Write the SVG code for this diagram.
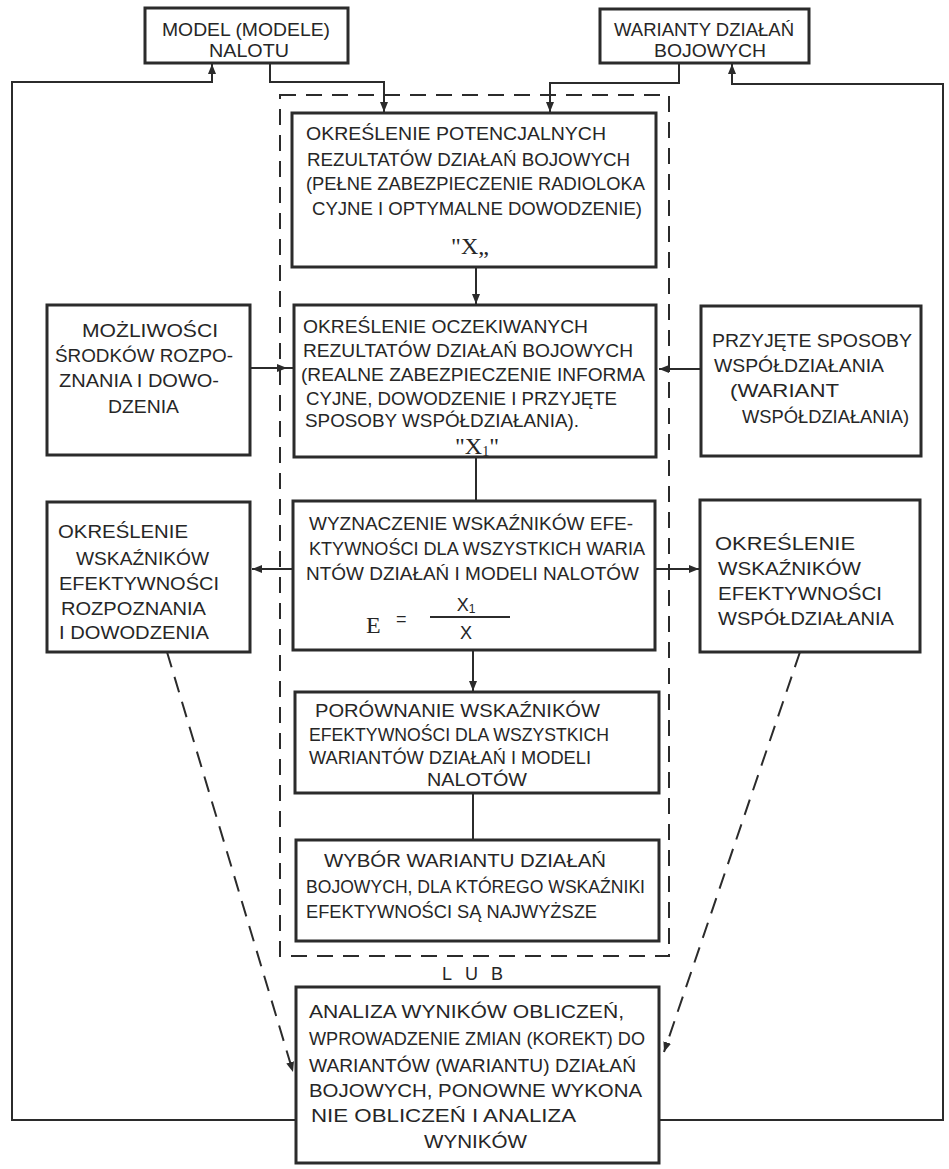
<svg xmlns="http://www.w3.org/2000/svg" width="949" height="1169" viewBox="0 0 949 1169">
<style>
.box{fill:#fff;stroke:#2b2b2b;stroke-width:3}
.ln{fill:none;stroke:#2b2b2b;stroke-width:2}
.dash{fill:none;stroke:#2b2b2b;stroke-width:2;stroke-dasharray:16 10}
text{font-family:"Liberation Sans","DejaVu Sans",sans-serif;font-size:18px;fill:#262626}
.c{text-anchor:middle}
.big{font-family:"Liberation Serif","DejaVu Serif",serif;font-size:24px}
</style>
<defs>
<marker id="ah" viewBox="0 0 10 10" refX="10" refY="5" markerWidth="5" markerHeight="5" orient="auto" markerUnits="strokeWidth">
<path d="M0,1 L10,5 L0,9 Z" fill="#2b2b2b"/>
</marker>
</defs>
<rect width="949" height="1169" fill="#fff"/>

<rect class="dash" x="280" y="95" width="389" height="861"/>

<g id="connectors">
<path class="ln" d="M296,1120 H12 V82 H212 V64" marker-end="url(#ah)"/>
<path class="ln" d="M659,1120 H943 V84 H732 V64" marker-end="url(#ah)"/>
<path class="ln" d="M270,63 V82 H384 V112" marker-end="url(#ah)"/>
<path class="ln" d="M679,63 V83 H550 V112" marker-end="url(#ah)"/>
<path class="ln" d="M476,267 V304" marker-end="url(#ah)"/>
<path class="ln" d="M476,457 V501"/>
<path class="ln" d="M473,650 V691" marker-end="url(#ah)"/>
<path class="ln" d="M473,793 V840"/>
<path class="ln" d="M250,368 H287" marker-end="url(#ah)"/>
<path class="ln" d="M293,368 H287"/>
<path class="ln" d="M701,369 H659" marker-end="url(#ah)"/>
<path class="ln" d="M293,569 H252" marker-end="url(#ah)"/>
<path class="ln" d="M655,569 H699" marker-end="url(#ah)"/>
<path class="dash" d="M167,652 L293,1072" marker-end="url(#ah)"/>
<path class="dash" d="M800,652 L664,1052" marker-end="url(#ah)"/>
</g>

<g id="model-nalotu">
<rect class="box" x="145" y="8" width="203" height="55"/>
<text class="c" x="246" y="36" textLength="168" lengthAdjust="spacingAndGlyphs">MODEL (MODELE)</text>
<text class="c" x="249" y="57" textLength="80" lengthAdjust="spacingAndGlyphs">NALOTU</text>
</g>

<g id="warianty">
<rect class="box" x="600" y="9" width="209" height="54"/>
<text class="c" x="704" y="36" textLength="180" lengthAdjust="spacingAndGlyphs">WARIANTY DZIAŁAŃ</text>
<text class="c" x="710" y="57" textLength="112" lengthAdjust="spacingAndGlyphs">BOJOWYCH</text>
</g>

<g id="box1">
<rect class="box" x="292" y="113" width="364" height="154"/>
<text x="306" y="140" textLength="300" lengthAdjust="spacingAndGlyphs">OKREŚLENIE POTENCJALNYCH</text>
<text x="307" y="166" textLength="323" lengthAdjust="spacingAndGlyphs">REZULTATÓW DZIAŁAŃ BOJOWYCH</text>
<text x="306" y="190" textLength="339" lengthAdjust="spacingAndGlyphs">(PEŁNE ZABEZPIECZENIE RADIOLOKA</text>
<text x="312" y="215" textLength="330" lengthAdjust="spacingAndGlyphs">CYJNE I OPTYMALNE DOWODZENIE)</text>
<text class="big c" x="470" y="254">"X„</text>
</g>

<g id="box2">
<rect class="box" x="294" y="305" width="362" height="152"/>
<text x="303" y="333" textLength="285" lengthAdjust="spacingAndGlyphs">OKREŚLENIE OCZEKIWANYCH</text>
<text x="303" y="357" textLength="330" lengthAdjust="spacingAndGlyphs">REZULTATÓW DZIAŁAŃ BOJOWYCH</text>
<text x="301" y="381" textLength="344" lengthAdjust="spacingAndGlyphs">(REALNE ZABEZPIECZENIE INFORMA</text>
<text x="306" y="405" textLength="311" lengthAdjust="spacingAndGlyphs">CYJNE, DOWODZENIE I PRZYJĘTE</text>
<text x="305" y="427" textLength="274" lengthAdjust="spacingAndGlyphs">SPOSOBY WSPÓŁDZIAŁANIA).</text>
<text class="big c" x="477" y="454" font-size="22">"X<tspan font-size="14" dy="2">1</tspan><tspan dy="-2">"</tspan></text>
</g>

<g id="mozliwosci">
<rect class="box" x="47" y="305" width="203" height="150"/>
<text x="82" y="337" textLength="136" lengthAdjust="spacingAndGlyphs">MOŻLIWOŚCI</text>
<text x="55" y="362" textLength="178" lengthAdjust="spacingAndGlyphs">ŚRODKÓW ROZPO-</text>
<text x="59" y="387" textLength="160" lengthAdjust="spacingAndGlyphs">ZNANIA I DOWO-</text>
<text x="108" y="413" textLength="71" lengthAdjust="spacingAndGlyphs">DZENIA</text>
</g>

<g id="przyjete">
<rect class="box" x="701" y="306" width="220" height="150"/>
<text x="712" y="347" textLength="200" lengthAdjust="spacingAndGlyphs">PRZYJĘTE SPOSOBY</text>
<text x="714" y="372" textLength="170" lengthAdjust="spacingAndGlyphs">WSPÓŁDZIAŁANIA</text>
<text x="730" y="397" textLength="109" lengthAdjust="spacingAndGlyphs">(WARIANT</text>
<text x="742" y="423" textLength="167" lengthAdjust="spacingAndGlyphs">WSPÓŁDZIAŁANIA)</text>
</g>

<g id="box3">
<rect class="box" x="293" y="501" width="362" height="149"/>
<text x="309" y="530" textLength="324" lengthAdjust="spacingAndGlyphs">WYZNACZENIE WSKAŹNIKÓW EFE-</text>
<text x="309" y="555" textLength="336" lengthAdjust="spacingAndGlyphs">KTYWNOŚCI DLA WSZYSTKICH WARIA</text>
<text x="306" y="580" textLength="333" lengthAdjust="spacingAndGlyphs">NTÓW DZIAŁAŃ I MODELI NALOTÓW</text>
<text class="big" x="366" y="633" font-size="26">E</text>
<text x="396" y="625" font-size="15">=</text>
<line class="ln" x1="430" y1="617" x2="510" y2="617"/>
<text class="c" x="466" y="611" font-size="17">X<tspan font-size="12" dy="2">1</tspan></text>
<text class="c" x="466" y="639" font-size="18">X</text>
</g>

<g id="efekt-rozpoznania">
<rect class="box" x="47" y="502" width="203" height="150"/>
<text x="58" y="538" textLength="130" lengthAdjust="spacingAndGlyphs">OKREŚLENIE</text>
<text x="76" y="565" textLength="133" lengthAdjust="spacingAndGlyphs">WSKAŹNIKÓW</text>
<text x="59" y="590" textLength="160" lengthAdjust="spacingAndGlyphs">EFEKTYWNOŚCI</text>
<text x="61" y="615" textLength="145" lengthAdjust="spacingAndGlyphs">ROZPOZNANIA</text>
<text x="59" y="639" textLength="150" lengthAdjust="spacingAndGlyphs">I DOWODZENIA</text>
</g>

<g id="efekt-wspoldzialania">
<rect class="box" x="700" y="500" width="220" height="152"/>
<text x="715" y="550" textLength="140" lengthAdjust="spacingAndGlyphs">OKREŚLENIE</text>
<text x="718" y="575" textLength="143" lengthAdjust="spacingAndGlyphs">WSKAŹNIKÓW</text>
<text x="718" y="600" textLength="164" lengthAdjust="spacingAndGlyphs">EFEKTYWNOŚCI</text>
<text x="718" y="625" textLength="176" lengthAdjust="spacingAndGlyphs">WSPÓŁDZIAŁANIA</text>
</g>

<g id="box4">
<rect class="box" x="295" y="692" width="364" height="101"/>
<text x="315" y="717" textLength="285" lengthAdjust="spacingAndGlyphs">PORÓWNANIE WSKAŹNIKÓW</text>
<text x="309" y="741" textLength="300" lengthAdjust="spacingAndGlyphs">EFEKTYWNOŚCI DLA WSZYSTKICH</text>
<text x="309" y="764" textLength="282" lengthAdjust="spacingAndGlyphs">WARIANTÓW DZIAŁAŃ I MODELI</text>
<text x="427" y="786" textLength="100" lengthAdjust="spacingAndGlyphs">NALOTÓW</text>
</g>

<g id="box5">
<rect class="box" x="296" y="840" width="363" height="101"/>
<text x="324" y="867" textLength="282" lengthAdjust="spacingAndGlyphs">WYBÓR WARIANTU DZIAŁAŃ</text>
<text x="306" y="893" textLength="339" lengthAdjust="spacingAndGlyphs">BOJOWYCH, DLA KTÓREGO WSKAŹNIKI</text>
<text x="306" y="918" textLength="291" lengthAdjust="spacingAndGlyphs">EFEKTYWNOŚCI SĄ NAJWYŻSZE</text>
</g>

<text x="442" y="980" textLength="61" lengthAdjust="spacing">LUB</text>

<g id="analiza">
<rect class="box" x="296" y="987" width="363" height="176"/>
<text x="309" y="1018" textLength="315" lengthAdjust="spacingAndGlyphs">ANALIZA WYNIKÓW OBLICZEŃ,</text>
<text x="309" y="1045" textLength="336" lengthAdjust="spacingAndGlyphs">WPROWADZENIE ZMIAN (KOREKT) DO</text>
<text x="309" y="1072" textLength="327" lengthAdjust="spacingAndGlyphs">WARIANTÓW (WARIANTU) DZIAŁAŃ</text>
<text x="309" y="1097" textLength="333" lengthAdjust="spacingAndGlyphs">BOJOWYCH, PONOWNE WYKONA</text>
<text x="311" y="1122" textLength="265" lengthAdjust="spacingAndGlyphs">NIE OBLICZEŃ I ANALIZA</text>
<text x="424" y="1148" textLength="103" lengthAdjust="spacingAndGlyphs">WYNIKÓW</text>
</g>
</svg>
